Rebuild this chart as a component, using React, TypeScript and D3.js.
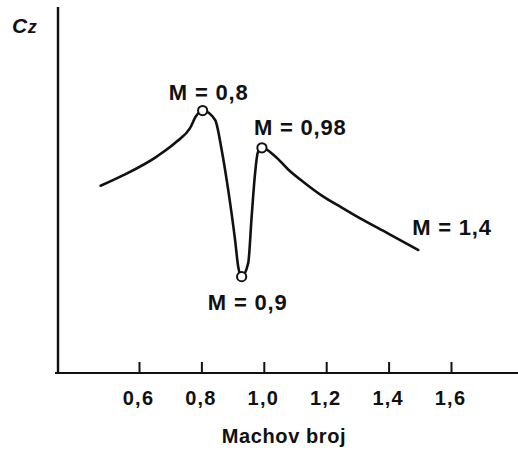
import React, { useEffect, useRef } from "react";
import * as d3 from "d3";

// Curve: Mach number vs lift coefficient (arbitrary Cz units)
const machValues = [0.477, 0.55, 0.657, 0.721, 0.763, 0.783, 0.804, 0.844, 0.865, 0.886, 0.908, 0.918, 0.929, 0.95, 0.961, 0.972, 0.981, 0.994, 1.036, 1.079, 1.132, 1.186, 1.25, 1.292, 1.399, 1.495];
const czValues = [0.513, 0.542, 0.593, 0.634, 0.67, 0.704, 0.719, 0.693, 0.611, 0.501, 0.364, 0.291, 0.264, 0.301, 0.428, 0.547, 0.605, 0.617, 0.594, 0.557, 0.52, 0.486, 0.453, 0.432, 0.382, 0.337];

// Marked points (circles)
const markerMach = [0.804, 0.929, 0.994];
const markerCz = [0.719, 0.264, 0.617];

// Annotations
const annotationTexts = ["M = 0,8", "M = 0,9", "M = 0,98", "M = 1,4"];
const annotationMach = [0.804, 0.929, 0.994, 1.495];
const annotationCz = [0.719, 0.264, 0.617, 0.337];

const tickValues = [0.6, 0.8, 1.0, 1.2, 1.4, 1.6];
const tickLabels = ["0,6", "0,8", "1,0", "1,2", "1,4", "1,6"];
const xTitle = "Machov broj";

const W = 518;
const H = 457;
const FONT = "'Liberation Sans', Arial, Helvetica, sans-serif";
const INK = "#111";

export default function App() {
  const ref = useRef<SVGSVGElement | null>(null);

  useEffect(() => {
    const svg = d3.select(ref.current);
    svg.selectAll("*").remove();

    const x = d3.scaleLinear().domain([0.6, 1.6]).range([139, 451]);
    const y = d3.scaleLinear().domain([0, 1]).range([373, 8]);
    const axisY = 373;
    const axisX = 58;

    // axes lines
    svg.append("line").attr("x1", 55).attr("x2", W).attr("y1", axisY).attr("y2", axisY)
      .attr("stroke", INK).attr("stroke-width", 2.2);
    svg.append("line").attr("x1", axisX).attr("x2", axisX).attr("y1", 7).attr("y2", axisY + 1)
      .attr("stroke", INK).attr("stroke-width", 2.4);

    // x axis ticks
    const axis = d3.axisBottom(x)
      .tickValues(tickValues)
      .tickFormat((_d, i) => tickLabels[i])
      .tickSizeInner(-11)
      .tickSizeOuter(0)
      .tickPadding(18);
    const g = svg.append("g").attr("transform", `translate(0,${axisY})`).call(axis);
    g.select(".domain").remove();
    g.selectAll(".tick line").attr("stroke", INK).attr("stroke-width", 2);
    g.selectAll(".tick text")
      .attr("fill", INK)
      .attr("font-family", FONT)
      .attr("font-size", 20)
      .attr("font-weight", 700)
      .attr("letter-spacing", 1.2)
      .attr("dx", -1);

    // x title
    svg.append("text").attr("x", 284).attr("y", 443).attr("text-anchor", "middle")
      .attr("font-family", FONT).attr("font-size", 20).attr("font-weight", 700)
      .attr("letter-spacing", 0.6).attr("fill", INK).text(xTitle);

    // y title Cz
    const yt = svg.append("text").attr("x", 12).attr("y", 33)
      .attr("font-family", FONT).attr("font-weight", 700).attr("fill", INK)
      .attr("font-style", "italic");
    yt.append("tspan").attr("font-size", 21).text("C");
    yt.append("tspan").attr("font-size", 18).attr("dx", 0.5).text("z");

    // curve
    const pts = machValues.map((m, i) => [m, czValues[i]] as [number, number]);
    const line = d3.line<[number, number]>()
      .x((d) => x(d[0]))
      .y((d) => y(d[1]))
      .curve(d3.curveMonotoneX);
    svg.append("path").attr("d", line(pts) as string).attr("fill", "none")
      .attr("stroke", INK).attr("stroke-width", 2.6).attr("stroke-linejoin", "round").attr("stroke-linecap", "round");

    // markers
    svg.selectAll("circle.mk").data(markerMach).enter().append("circle")
      .attr("class", "mk")
      .attr("cx", (d) => x(d))
      .attr("cy", (_d, i) => y(markerCz[i]))
      .attr("r", 4.6)
      .attr("fill", "#fff")
      .attr("stroke", INK)
      .attr("stroke-width", 2);

    // annotations
    const offsets = [
      { dx: 6, dy: -11, anchor: "middle" },
      { dx: 6, dy: 33, anchor: "middle" },
      { dx: -8, dy: -13, anchor: "start" },
      { dx: -6, dy: -15, anchor: "start" },
    ];
    svg.selectAll("text.ann").data(annotationTexts).enter().append("text")
      .attr("class", "ann")
      .attr("x", (_d, i) => x(annotationMach[i]) + offsets[i].dx)
      .attr("y", (_d, i) => y(annotationCz[i]) + offsets[i].dy)
      .attr("text-anchor", (_d, i) => offsets[i].anchor)
      .attr("font-family", FONT)
      .attr("font-size", 22)
      .attr("font-weight", 700)
      .attr("letter-spacing", 0.8)
      .attr("fill", INK)
      .text((d) => d);
  }, []);

  return (
    <svg
      ref={ref}
      width={W}
      height={H}
      viewBox={`0 0 ${W} ${H}`}
      style={{ position: "absolute", left: 0, top: 0, background: "#fff" }}
    />
  );
}
